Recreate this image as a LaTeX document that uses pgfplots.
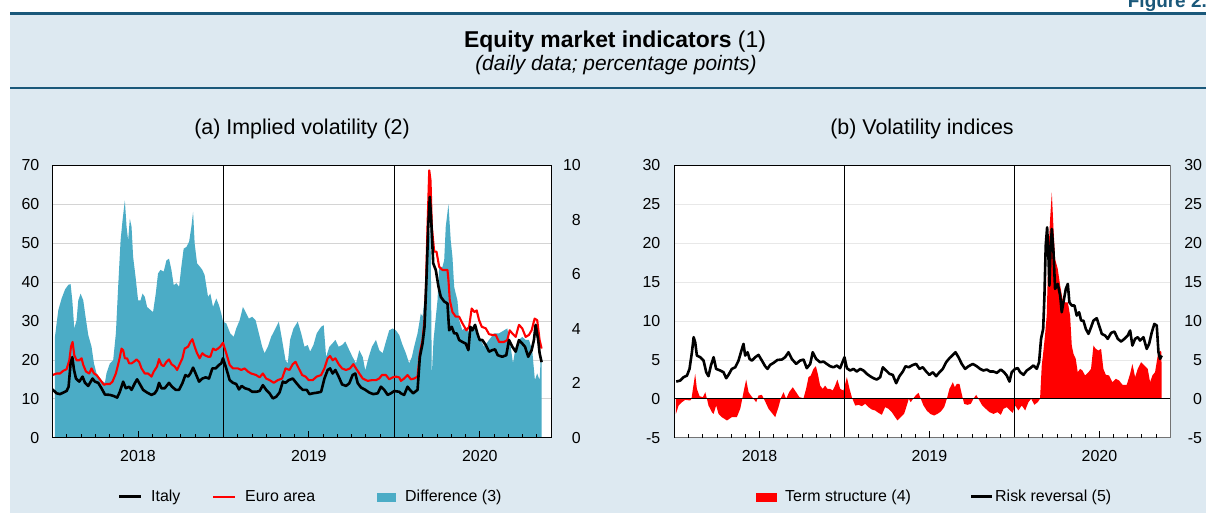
\documentclass[border=0pt]{standalone}
\usepackage{pgfplots}
\pgfplotsset{compat=1.18}
\usepackage{fontspec}
\setmainfont{Liberation Sans}
\definecolor{bgblue}{RGB}{221,233,241}
\definecolor{bandteal}{RGB}{26,88,122}
\definecolor{diffblue}{RGB}{75,172,198}
\definecolor{gridgray}{RGB}{212,212,212}
\pgfplotsset{
  panel/.style={scale only axis, anchor=south west, height=272.4bp, xmin=0, xmax=35,
    tick label style={font=\fontsize{16}{19}\selectfont},
    xticklabel style={anchor=north, inner sep=0pt, yshift=-12bp},
  },
}
\begin{document}
\begin{tikzpicture}
\begin{scope}[x=1bp,y=1bp]
\useasboundingbox (0,0) rectangle (1206,513);
\fill[white] (0,0) rectangle (1206,513);
\fill[bgblue] (10,0) rectangle (1206,500.5);
\fill[bandteal] (10,497.5) rectangle (1206,500.5);
\fill[bandteal] (10,424.3) rectangle (1206,425.8);
\node[anchor=base east, text=bandteal, font=\bfseries\fontsize{19}{22}\selectfont, inner sep=0pt] at (1207,505.7) {Figure 2.};
\node[anchor=base, inner sep=0pt, font=\fontsize{23}{27}\selectfont] at (615,465.5) {\textbf{Equity market indicators} (1)};
\node[anchor=base, inner sep=0pt, font=\itshape\fontsize{21}{25}\selectfont] at (616,442) {(daily data; percentage points)};
\node[anchor=base, inner sep=0pt, font=\fontsize{21.5}{25}\selectfont] at (302,378.5) {(a) Implied volatility (2)};
\node[anchor=base, inner sep=0pt, font=\fontsize{21.5}{25}\selectfont] at (922,378.5) {(b) Volatility indices};
\end{scope}

% ---------------- Panel (a) ----------------
\begin{axis}[panel, at={(52.5bp,75.3bp)}, width=498.5bp,
  axis background/.style={fill=white},
  ymin=0, ymax=70, ytick={0,10,20,30,40,50,60,70}, yticklabels={0,10,20,30,40,50,60,70},
  ymajorgrids, grid style={draw=gridgray, line width=0.7bp},
  axis line style={draw=none}, tick style={draw=none},
  xtick={6,18,30}, xticklabels={2018,2019,2020},
  yticklabel style={anchor=east, inner sep=0pt, xshift=-13bp}]
\addplot[draw=none] coordinates {(0,0)};
\end{axis}

\begin{axis}[panel, at={(52.5bp,75.3bp)}, width=498.5bp,
  ymin=0, ymax=10, ytick={0,2,4,6,8,10}, yticklabels={0,2,4,6,8,10},
  yticklabel pos=right, xtick=\empty,
  axis line style={draw=none}, tick style={draw=none},
  yticklabel style={anchor=east, inner sep=0pt, xshift=30bp}]
\addplot[fill=diffblue, draw=none] table {
0.17 3.70
0.41 4.69
0.64 5.11
0.88 5.44
1.11 5.61
1.27 5.64
1.39 5.04
1.53 4.01
1.69 4.31
1.81 5.04
1.97 5.29
2.16 5.04
2.32 4.44
2.51 3.77
2.74 3.34
2.91 2.73
3.09 2.36
3.44 2.11
3.68 2.01
3.79 2.36
4.03 2.73
4.26 2.84
4.45 3.83
4.61 5.54
4.78 7.24
4.92 7.99
5.08 8.71
5.20 7.74
5.31 7.24
5.43 8.04
5.55 7.74
5.66 6.64
5.83 5.91
6.01 5.04
6.18 5.04
6.32 5.29
6.48 5.17
6.64 4.80
6.88 4.69
7.06 4.61
7.25 5.29
7.41 6.03
7.58 6.16
7.81 6.10
8.00 6.51
8.18 6.57
8.35 6.16
8.51 5.60
8.70 5.67
8.89 5.54
9.05 6.29
9.21 6.94
9.40 7.00
9.59 7.19
9.75 7.74
9.87 8.29
9.98 7.13
10.15 6.40
10.33 6.29
10.52 6.16
10.68 5.97
10.92 5.17
11.08 5.29
11.27 4.80
11.50 5.11
11.69 4.86
11.85 4.56
11.97 4.26
12.20 4.20
12.48 3.83
12.72 3.70
12.90 4.01
13.14 4.31
13.37 4.80
13.56 4.61
13.79 4.37
14.02 4.44
14.26 4.31
14.49 3.83
14.72 3.34
14.89 3.10
15.12 3.34
15.35 3.70
15.59 3.94
15.89 4.26
16.12 3.59
16.36 2.84
16.52 2.73
16.68 3.59
16.92 4.01
17.22 4.26
17.46 3.83
17.69 3.34
17.92 3.40
18.09 3.16
18.32 3.40
18.55 3.83
18.86 4.07
19.04 4.13
19.21 2.96
19.44 3.34
19.67 3.47
19.86 3.59
20.09 3.34
20.33 3.40
20.56 3.53
20.84 3.21
21.07 2.96
21.31 2.73
21.54 3.21
21.78 2.96
21.96 2.47
22.20 2.96
22.43 3.34
22.71 3.59
22.94 3.21
23.18 3.10
23.41 3.53
23.64 3.94
23.88 4.01
24.11 3.94
24.34 3.77
24.58 3.40
24.81 3.10
25.04 2.73
25.23 2.96
25.39 3.34
25.63 3.83
25.86 4.56
25.98 4.44
26.10 5.00
26.26 6.43
26.40 7.14
26.54 7.86
26.63 2.29
26.75 3.57
27.03 5.04
27.15 6.27
27.38 6.27
27.50 6.51
27.61 7.74
27.80 8.57
27.96 7.24
28.08 6.64
28.20 5.54
28.31 5.29
28.43 5.04
28.55 4.31
28.78 3.94
29.01 4.07
29.25 3.83
29.48 4.07
29.71 3.94
29.95 3.70
30.30 3.34
30.65 3.59
31.00 3.83
31.35 3.83
31.70 3.94
31.93 4.01
32.17 3.34
32.33 2.73
32.52 3.34
32.75 3.59
32.98 3.70
33.22 3.59
33.45 3.59
33.68 3.21
33.87 2.11
34.03 2.36
34.20 2.11
34.27 2.84
34.34 2.84
} \closedcycle;
\end{axis}

\begin{axis}[panel, at={(52.5bp,75.3bp)}, width=498.5bp,
  ymin=0, ymax=70, ytick=\empty,
  xtick={6,18,30}, xticklabels={}, 
  minor xtick={1,2,3,4,5,7,8,9,10,11,13,14,15,16,17,19,20,21,22,23,25,26,27,28,29,31,32,33,34},
  xtick pos=lower, tick align=inside,
  major tick length=7bp, minor tick length=4bp,
  tick style={black, line width=0.8bp},
  axis line style={black, line width=0.9bp}, axis on top]
\draw[black, line width=0.8bp] (axis cs:12,0) -- (axis cs:12,70);
\draw[black, line width=0.8bp] (axis cs:24,0) -- (axis cs:24,70);
\addplot[red, line width=2.1bp, line join=round] table {
0.00 16.1
0.29 16.5
0.53 16.5
0.76 17.2
0.99 17.6
1.18 19.9
1.30 23.4
1.41 24.6
1.53 21.2
1.69 19.9
1.88 19.9
2.04 20.4
2.16 18.7
2.35 17.0
2.58 16.5
2.74 17.8
2.91 16.5
3.09 16.1
3.28 15.2
3.44 14.4
3.61 13.6
3.79 13.8
4.03 13.8
4.21 14.4
4.45 16.5
4.68 19.9
4.85 22.9
4.96 22.5
5.08 20.4
5.24 20.4
5.38 19.1
5.55 19.1
5.71 19.5
5.90 20.1
6.08 19.5
6.25 17.8
6.48 16.5
6.71 16.5
6.95 15.7
7.11 17.0
7.34 18.3
7.48 20.2
7.65 18.7
7.81 18.4
8.00 19.5
8.18 20.1
8.35 18.9
8.58 18.3
8.75 17.4
8.93 18.9
9.12 20.4
9.28 22.9
9.52 23.4
9.68 24.6
9.82 25.3
9.98 23.4
10.15 21.7
10.33 20.4
10.52 21.7
10.68 21.2
10.92 20.8
11.08 20.8
11.27 22.9
11.45 22.5
11.62 22.9
11.78 23.4
11.97 24.4
12.20 21.7
12.44 18.7
12.67 17.8
13.02 17.8
13.25 17.4
13.49 17.8
13.72 17.0
13.95 16.5
14.30 16.1
14.54 15.5
14.77 16.5
15.00 15.2
15.24 14.8
15.54 14.1
15.82 14.8
16.12 15.2
16.36 17.8
16.64 17.4
16.87 18.9
17.06 19.5
17.29 17.8
17.53 16.1
17.76 15.7
17.99 14.8
18.27 14.8
18.55 15.7
18.86 16.1
19.09 17.8
19.32 20.4
19.49 21.0
19.67 19.9
19.86 20.4
20.09 18.9
20.33 17.8
20.61 17.4
20.89 17.8
21.12 18.9
21.31 17.8
21.54 16.5
21.78 15.2
22.13 14.6
22.43 14.8
22.71 14.8
22.94 15.2
23.13 16.1
23.41 16.1
23.64 15.0
23.88 15.5
24.11 15.7
24.34 15.5
24.46 14.6
24.69 15.2
24.93 16.1
25.16 15.0
25.39 15.2
25.63 15.7
25.79 21.7
25.98 25.1
26.12 30.2
26.21 37.0
26.33 54.2
26.45 68.7
26.54 66.1
26.63 54.2
26.80 47.8
26.96 47.8
27.15 43.9
27.38 43.1
27.57 43.1
27.73 43.1
27.80 40.5
27.89 35.4
28.08 32.3
28.31 31.1
28.55 31.1
28.78 29.4
29.06 27.6
29.25 28.5
29.43 33.2
29.62 32.3
29.78 32.7
29.95 30.2
30.14 28.5
30.42 28.1
30.65 26.6
30.88 26.4
31.12 26.4
31.35 24.6
31.70 24.6
31.93 25.1
32.10 27.6
32.28 26.8
32.52 25.9
32.75 29.0
32.98 28.1
33.22 25.9
33.45 26.4
33.64 27.6
33.85 30.6
34.03 30.2
34.20 25.1
34.34 22.9
};
\addplot[black, line width=2.6bp, line join=round] table {
0.00 12.4
0.29 11.4
0.53 11.2
0.76 11.6
0.99 12.0
1.13 13.1
1.27 19.1
1.39 20.7
1.51 17.4
1.65 15.2
1.88 14.4
2.11 15.7
2.28 14.1
2.51 13.3
2.81 15.2
2.98 14.4
3.21 14.1
3.44 12.7
3.68 11.1
4.03 11.0
4.31 10.7
4.54 10.3
4.73 11.8
4.96 14.4
5.15 12.7
5.38 13.1
5.55 12.3
5.78 14.0
5.94 15.0
6.13 13.8
6.36 12.3
6.64 11.6
6.95 11.0
7.18 11.4
7.34 12.3
7.48 14.1
7.65 12.7
7.88 12.7
8.18 14.1
8.39 13.1
8.65 12.3
8.89 12.3
9.12 14.0
9.33 16.1
9.52 15.7
9.68 16.5
9.87 18.0
10.05 16.5
10.29 14.4
10.52 15.2
10.75 15.5
10.99 15.2
11.22 17.8
11.45 17.8
11.69 18.7
11.85 19.1
11.97 20.4
12.20 17.8
12.44 14.8
12.67 14.1
12.90 13.8
13.09 12.4
13.28 13.3
13.51 12.7
13.79 12.4
14.02 11.8
14.30 11.8
14.54 12.0
14.77 13.5
15.00 12.3
15.24 11.4
15.47 10.1
15.70 10.5
15.94 11.6
16.17 14.4
16.36 14.1
16.59 14.8
16.87 15.2
17.11 14.1
17.34 13.1
17.57 12.3
17.85 12.3
18.04 11.2
18.27 11.4
18.62 11.6
18.86 11.8
19.09 15.2
19.32 17.4
19.49 17.8
19.67 16.5
19.86 17.4
20.09 15.7
20.33 13.7
20.61 13.3
20.84 14.0
21.07 16.1
21.26 16.5
21.43 14.0
21.66 12.9
21.96 12.3
22.24 11.6
22.52 11.2
22.83 11.4
23.06 13.1
23.29 12.3
23.53 11.0
23.76 11.4
23.99 12.0
24.34 11.8
24.46 11.4
24.69 11.0
24.93 13.1
25.09 12.3
25.32 11.4
25.63 12.3
25.79 20.7
25.98 24.2
26.12 28.5
26.26 41.3
26.38 54.2
26.49 61.9
26.59 55.9
26.73 44.8
26.91 43.1
27.10 38.8
27.26 36.2
27.50 35.0
27.73 34.5
27.85 27.6
28.03 28.5
28.20 26.8
28.38 26.8
28.55 25.1
28.78 24.6
29.01 24.2
29.20 22.5
29.34 28.5
29.48 27.6
29.67 29.0
29.83 26.8
29.99 25.1
30.18 25.1
30.42 23.8
30.65 22.1
30.88 22.5
31.07 22.7
31.26 21.2
31.58 20.8
31.86 21.2
32.05 25.1
32.28 23.4
32.52 22.1
32.75 25.1
32.98 24.2
33.17 23.4
33.40 20.8
33.64 22.5
33.80 25.1
33.92 29.0
34.10 25.1
34.20 21.7
34.34 19.4
};
\end{axis}

% ---------------- Panel (b) ----------------
\begin{axis}[panel, at={(674.5bp,75.3bp)}, width=495.7bp,
  axis background/.style={fill=white},
  ymin=-5, ymax=30, ytick={-5,0,5,10,15,20,25,30}, yticklabels={-5,0,5,10,15,20,25,30},
  ymajorgrids, grid style={draw=black!9, line width=0.7bp},
  axis line style={draw=none}, tick style={draw=none},
  xtick={6,18,30}, xticklabels={2018,2019,2020},
  yticklabel style={anchor=east, inner sep=0pt, xshift=-14bp}]
\addplot[draw=none] coordinates {(0,0)};
\end{axis}

\begin{axis}[panel, at={(674.5bp,75.3bp)}, width=495.7bp,
  clip mode=individual,
  ymin=-5, ymax=30, ytick={-5,0,5,10,15,20,25,30}, yticklabels={-5,0,5,10,15,20,25,30},
  yticklabel pos=right, ytick style={draw=none},
  yticklabel style={anchor=east, inner sep=0pt, xshift=32bp},
  xtick={6,18,30}, xticklabels={},
  minor xtick={1,2,3,4,5,7,8,9,10,11,13,14,15,16,17,19,20,21,22,23,25,26,27,28,29,31,32,33,34},
  xtick pos=lower, tick align=inside,
  major tick length=7bp, minor tick length=4bp,
  xtick style={black, line width=0.8bp},
  axis line style={draw=none}, axis on top]
\addplot[fill=red, draw=none] table {
0.10 -1.94
0.29 -0.87
0.52 -0.44
0.76 -0.14
1.11 -0.22
1.20 0.0
1.30 1.27
1.46 3.20
1.58 1.27
1.77 0.33
2.00 0.20
2.17 0.84
2.29 0.0
2.40 -0.87
2.64 -1.72
2.76 -1.94
2.94 -0.87
3.11 -1.94
3.34 -2.36
3.70 -2.79
4.05 -2.36
4.40 -2.36
4.64 -1.29
4.76 -0.22
4.92 1.27
5.06 2.47
5.23 0.84
5.39 0.42
5.58 0.0
5.77 -0.44
5.93 0.42
6.17 0.50
6.40 -0.34
6.64 -1.29
6.87 -1.81
7.11 -2.36
7.34 -1.08
7.53 0.20
7.70 0.84
7.88 0.0
8.12 0.93
8.35 1.48
8.59 0.84
8.82 0.20
9.11 0.07
9.29 1.27
9.46 2.77
9.62 2.98
9.81 3.84
9.98 4.18
10.12 3.20
10.28 1.70
10.47 1.27
10.63 1.70
10.80 1.27
10.99 1.27
11.17 1.06
11.34 1.70
11.50 2.47
11.70 1.27
11.93 1.06
12.05 1.91
12.17 2.77
12.36 1.27
12.52 0.20
12.76 -0.87
12.99 -0.78
13.23 -0.95
13.46 -0.65
13.70 -1.08
13.93 -1.38
14.17 -1.51
14.40 -1.81
14.64 -2.06
14.87 -1.08
15.11 -1.29
15.34 -1.72
15.58 -2.36
15.74 -2.79
15.98 -2.36
16.21 -1.94
16.40 -0.87
16.54 0.0
16.68 -0.44
16.87 0.07
17.06 0.50
17.23 0.76
17.39 0.0
17.58 -0.87
17.81 -1.51
18.05 -1.94
18.33 -2.15
18.57 -1.94
18.80 -1.64
19.04 -1.08
19.23 0.0
19.41 1.27
19.65 2.13
19.79 1.48
19.93 1.91
20.12 1.91
20.28 0.63
20.45 -0.65
20.68 -0.78
20.92 -0.65
21.11 0.0
21.30 0.50
21.46 0.0
21.70 -0.78
21.93 -1.21
22.24 -1.72
22.52 -1.94
22.80 -1.72
23.04 -2.06
23.23 -1.29
23.46 -1.08
23.70 -1.51
23.88 -1.81
24.05 -0.86
24.28 -1.50
24.52 -0.86
24.76 -1.50
24.99 -0.43
25.18 0.0
25.41 -0.77
25.65 -0.43
25.81 0.0
25.93 4.28
26.05 6.20
26.17 8.34
26.28 10.69
26.40 18.82
26.52 23.10
26.64 26.52
26.76 21.82
26.87 17.97
27.06 16.68
27.23 14.54
27.39 12.84
27.58 12.40
27.77 12.40
27.93 10.69
28.05 6.84
28.17 5.77
28.33 5.13
28.47 3.42
28.64 3.85
28.80 3.63
28.99 3.00
29.23 3.42
29.41 3.85
29.58 6.84
29.74 6.42
29.93 6.20
30.12 6.42
30.28 3.85
30.45 3.08
30.68 3.00
30.92 2.14
31.16 2.57
31.39 2.35
31.63 1.80
31.93 1.80
32.17 3.21
32.33 4.49
32.52 2.78
32.71 3.85
32.94 4.70
33.18 4.28
33.41 3.85
33.58 2.14
33.74 3.00
33.93 3.42
34.12 5.56
34.28 6.20
34.38 6.00
34.40 0.00
} \closedcycle;
\draw[black, line width=0.9bp] (axis cs:0,0) -- (axis cs:35,0);
\draw[black, line width=0.8bp] (axis cs:12,-5) -- (axis cs:12,30);
\draw[black, line width=0.8bp] (axis cs:24,-5) -- (axis cs:24,30);
\addplot[black, line width=2.6bp, line join=round] table {
0.12 2.21
0.40 2.34
0.64 2.77
0.88 2.98
1.06 3.84
1.23 5.98
1.35 7.91
1.46 7.26
1.58 5.55
1.82 5.34
2.05 4.91
2.24 3.41
2.40 2.90
2.57 4.27
2.76 5.34
2.94 3.84
3.23 3.63
3.46 3.41
3.65 2.64
3.81 3.07
4.05 3.84
4.29 4.05
4.52 4.91
4.76 6.41
4.87 7.05
4.99 5.55
5.16 5.98
5.30 5.12
5.46 4.91
5.70 5.34
5.93 5.64
6.17 4.91
6.40 4.18
6.57 3.84
6.75 4.35
6.99 4.61
7.27 4.99
7.58 5.04
7.81 5.34
8.05 5.98
8.28 5.12
8.59 4.48
8.87 4.91
9.11 5.04
9.34 3.93
9.58 4.48
9.76 5.98
10.00 5.12
10.28 4.70
10.52 4.78
10.75 4.48
10.99 4.18
11.22 4.05
11.46 4.27
11.69 3.93
12.00 5.34
12.17 3.93
12.40 3.63
12.64 3.84
12.87 3.50
13.11 3.84
13.34 3.63
13.58 3.20
13.81 2.90
14.05 2.64
14.28 2.47
14.52 2.77
14.71 4.05
14.94 3.63
15.18 3.20
15.41 3.07
15.65 2.00
15.88 2.90
16.12 3.50
16.31 4.18
16.54 4.05
16.83 4.35
17.06 4.48
17.30 3.84
17.53 4.05
17.77 3.50
18.00 3.07
18.24 3.41
18.47 2.90
18.71 3.41
18.94 3.84
19.18 4.70
19.41 5.21
19.65 5.64
19.84 5.98
20.05 5.34
20.28 4.48
20.52 3.84
20.76 4.18
21.06 4.48
21.34 4.18
21.58 3.84
21.81 3.63
22.05 3.76
22.28 3.50
22.52 3.50
22.76 3.33
23.04 3.76
23.27 3.41
23.46 2.98
23.65 2.21
23.81 3.41
24.05 3.85
24.24 3.93
24.40 3.42
24.64 3.08
24.87 3.63
25.11 3.93
25.34 4.28
25.58 3.85
25.74 4.70
25.88 7.70
26.03 8.98
26.12 13.26
26.21 19.68
26.31 22.03
26.40 18.39
26.47 14.54
26.54 18.82
26.64 21.82
26.76 18.82
26.87 14.12
27.06 14.76
27.23 13.26
27.34 11.12
27.46 12.40
27.63 14.12
27.77 14.76
27.88 12.40
28.05 11.98
28.24 11.98
28.40 10.69
28.57 11.12
28.71 10.05
28.87 10.05
29.04 8.98
29.23 8.34
29.41 9.19
29.58 10.05
29.81 10.35
29.98 9.41
30.17 8.34
30.40 8.13
30.59 7.70
30.83 8.47
31.06 8.64
31.30 7.70
31.53 7.36
31.77 7.70
32.00 8.13
32.17 8.77
32.33 6.84
32.52 7.70
32.71 7.91
32.87 7.48
33.11 7.91
33.34 6.41
33.51 7.06
33.70 8.55
33.88 9.62
34.05 9.41
34.17 5.99
34.28 5.13
34.40 5.56
};
\draw[black, line width=0.9bp] (rel axis cs:0,0) -- (rel axis cs:0,1) -- (rel axis cs:1,1);
\draw[black!55, line width=1.3bp] (rel axis cs:0,0) -- (rel axis cs:1,0) -- (rel axis cs:1,1);
\end{axis}

% ---------------- Legends ----------------
\begin{scope}[x=1bp,y=1bp,every node/.style={anchor=base west, inner sep=0pt, font=\fontsize{16}{19}\selectfont}]
\draw[black, line width=3bp] (119,16) -- (141,16);
\node at (151,11.5) {Italy};
\draw[red, line width=2.5bp] (213,16) -- (235,16);
\node at (245,11.5) {Euro area};
\fill[diffblue] (377,10.7) rectangle (396,20.2);
\node at (405,11.5) {Difference (3)};
\fill[red] (756,10.7) rectangle (777,20.2);
\node at (785,11.5) {Term structure (4)};
\draw[black, line width=3bp] (971,16) -- (992,16);
\node at (995,11.5) {Risk reversal (5)};
\end{scope}
\end{tikzpicture}
\end{document}
